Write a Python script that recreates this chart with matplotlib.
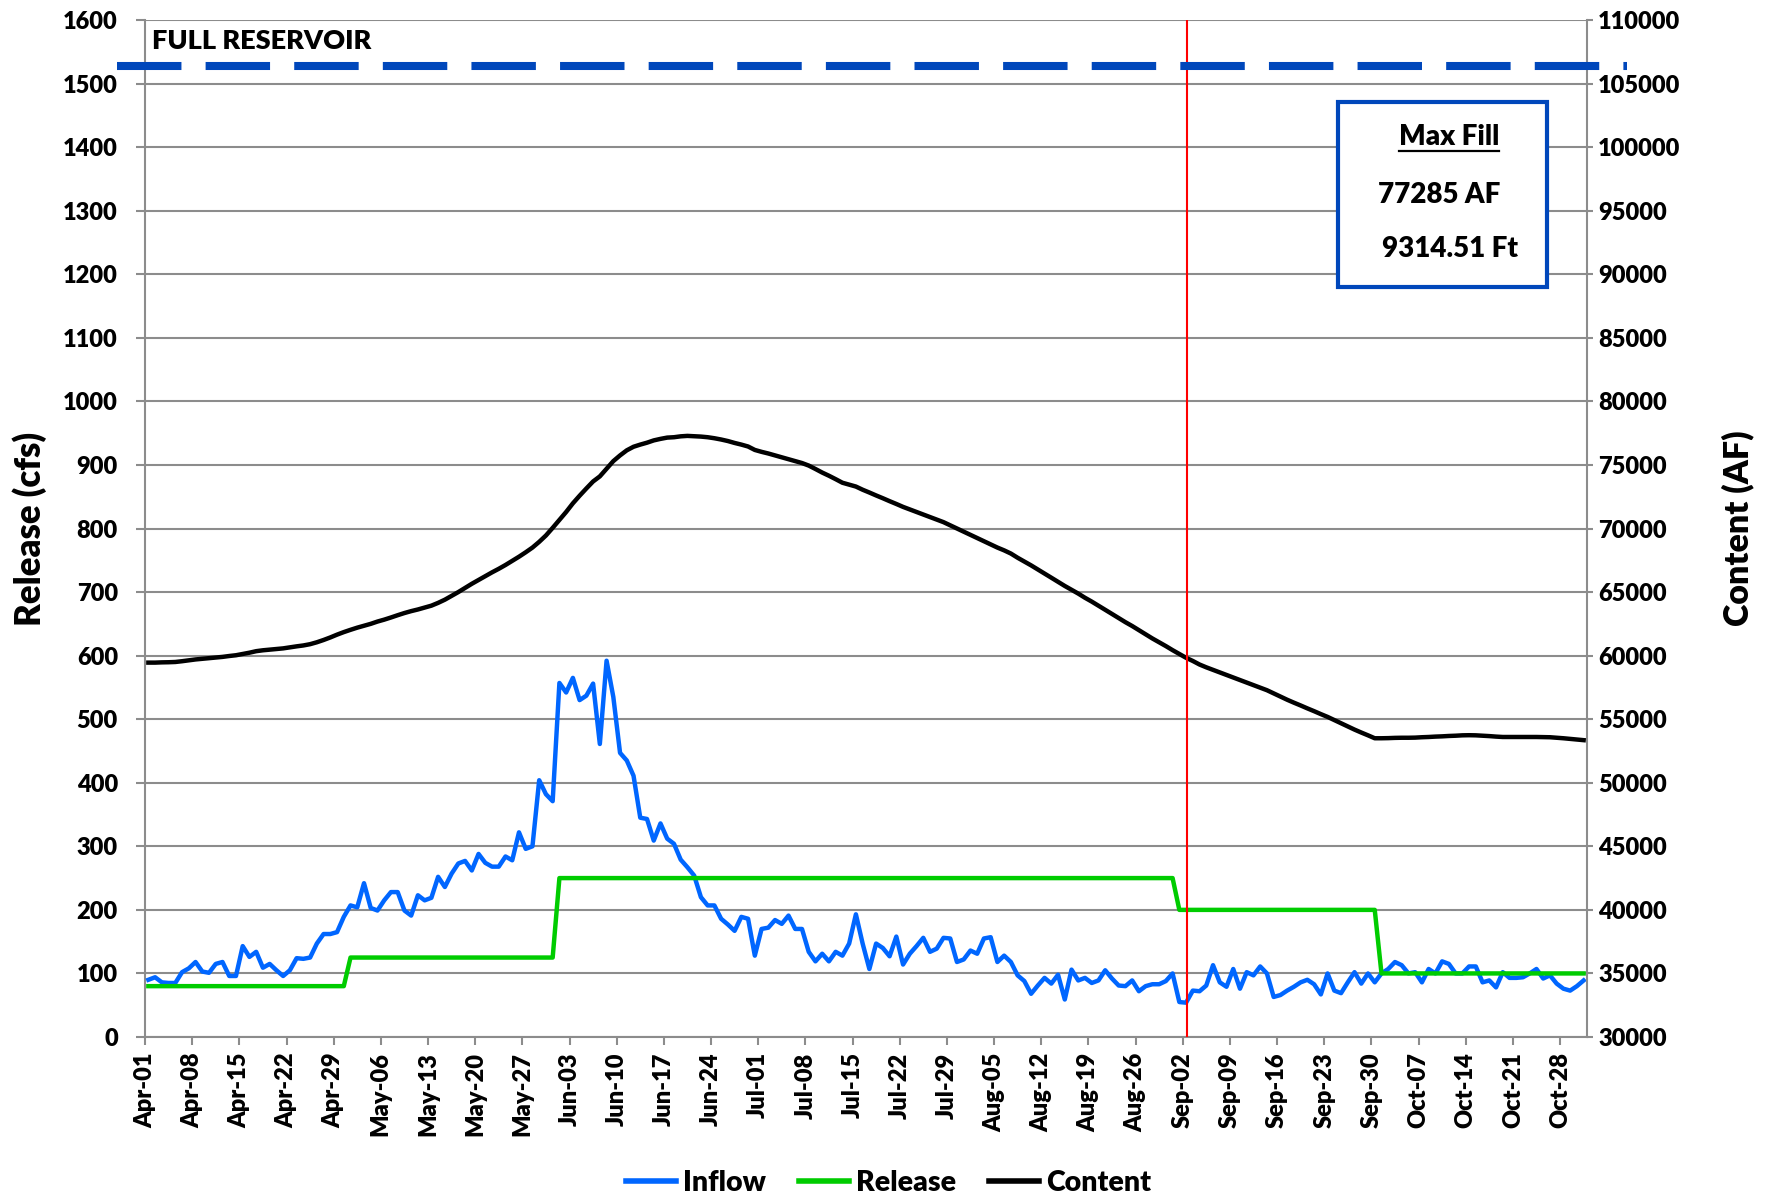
import numpy as np
import pandas as pd
import matplotlib
matplotlib.use("Agg")
import matplotlib.pyplot as plt
import matplotlib.transforms as mtransforms
from matplotlib.lines import Line2D
from matplotlib.patches import Rectangle

# ---------------- data (daily, Apr-01 .. Oct-31) ----------------
start_date = "2000-04-01 12:00"

inflow = [
    90, 94, 86, 85, 85, 102, 108, 118, 103, 101,
    115, 118, 96, 96, 143, 126, 134, 109, 115, 105,
    96, 105, 124, 123, 125, 147, 162, 162, 165, 189,
    207, 204, 242, 203, 199, 215, 228, 228, 199, 191,
    223, 215, 219, 252, 236, 257, 273, 277, 262, 288,
    274, 268, 268, 284, 278, 322, 296, 300, 404, 382,
    371, 557, 542, 565, 530, 537, 556, 461, 592, 535,
    447, 435, 411, 345, 343, 309, 336, 312, 304, 279,
    267, 254, 220, 207, 207, 186, 177, 167, 189, 186,
    128, 170, 172, 184, 178, 191, 170, 170, 134, 119,
    131, 119, 134, 128, 147, 193, 147, 107, 147, 140,
    127, 158, 114, 131, 143, 156, 134, 139, 156, 155,
    118, 122, 136, 131, 155, 157, 118, 128, 118, 97,
    88, 68, 81, 93, 84, 98, 59, 106, 89, 93,
    85, 89, 105, 92, 81, 80, 89, 72, 80, 83,
    83, 88, 100, 55, 54, 73, 72, 81, 113, 86,
    79, 107, 76, 102, 97, 111, 100, 63, 66, 73,
    79, 86, 90, 83, 67, 100, 73, 69, 86, 102,
    84, 100, 86, 100, 107, 118, 113, 100, 102, 86,
    107, 100, 119, 115, 100, 100, 111, 111, 86, 89,
    78, 102, 93, 93, 94, 100, 107, 92, 97, 84,
    76, 73, 80, 89,
]

release = [
    80, 80, 80, 80, 80, 80, 80, 80, 80, 80,
    80, 80, 80, 80, 80, 80, 80, 80, 80, 80,
    80, 80, 80, 80, 80, 80, 80, 80, 80, 80,
    125, 125, 125, 125, 125, 125, 125, 125, 125, 125,
    125, 125, 125, 125, 125, 125, 125, 125, 125, 125,
    125, 125, 125, 125, 125, 125, 125, 125, 125, 125,
    125, 250, 250, 250, 250, 250, 250, 250, 250, 250,
    250, 250, 250, 250, 250, 250, 250, 250, 250, 250,
    250, 250, 250, 250, 250, 250, 250, 250, 250, 250,
    250, 250, 250, 250, 250, 250, 250, 250, 250, 250,
    250, 250, 250, 250, 250, 250, 250, 250, 250, 250,
    250, 250, 250, 250, 250, 250, 250, 250, 250, 250,
    250, 250, 250, 250, 250, 250, 250, 250, 250, 250,
    250, 250, 250, 250, 250, 250, 250, 250, 250, 250,
    250, 250, 250, 250, 250, 250, 250, 250, 250, 250,
    250, 250, 250, 200, 200, 200, 200, 200, 200, 200,
    200, 200, 200, 200, 200, 200, 200, 200, 200, 200,
    200, 200, 200, 200, 200, 200, 200, 200, 200, 200,
    200, 200, 200, 100, 100, 100, 100, 100, 100, 100,
    100, 100, 100, 100, 100, 100, 100, 100, 100, 100,
    100, 100, 100, 100, 100, 100, 100, 100, 100, 100,
    100, 100, 100, 100,
]

content = [
    59450, 59450, 59470, 59480, 59500, 59560, 59630, 59700, 59750, 59800,
    59850, 59900, 59970, 60030, 60130, 60230, 60350, 60420, 60470, 60520,
    60570, 60650, 60730, 60800, 60900, 61050, 61230, 61430, 61650, 61850,
    62030, 62200, 62350, 62500, 62680, 62830, 63000, 63180, 63350, 63500,
    63630, 63780, 63930, 64150, 64400, 64700, 65000, 65330, 65650, 65950,
    66250, 66550, 66830, 67130, 67450, 67780, 68130, 68500, 68950, 69450,
    70050, 70680, 71300, 71980, 72580, 73150, 73700, 74100, 74700, 75300,
    75750, 76150, 76430, 76600, 76750, 76930, 77050, 77150, 77180, 77250,
    77285, 77260, 77230, 77180, 77100, 77000, 76880, 76730, 76600, 76450,
    76180, 76030, 75900, 75750, 75600, 75450, 75300, 75150, 74950, 74680,
    74400, 74150, 73880, 73600, 73450, 73300, 73050, 72830, 72600, 72380,
    72150, 71930, 71700, 71500, 71300, 71100, 70900, 70700, 70500, 70250,
    70000, 69750, 69500, 69250, 69000, 68750, 68500, 68280, 68030, 67700,
    67400, 67100, 66780, 66450, 66130, 65800, 65480, 65180, 64880, 64550,
    64250, 63930, 63600, 63280, 62950, 62630, 62330, 62000, 61680, 61350,
    61050, 60750, 60430, 60130, 59830, 59580, 59300, 59080, 58880, 58680,
    58480, 58280, 58080, 57880, 57680, 57480, 57280, 57030, 56780, 56530,
    56300, 56080, 55850, 55630, 55400, 55180, 54930, 54680, 54430, 54180,
    53950, 53730, 53500, 53500, 53510, 53530, 53540, 53540, 53550, 53580,
    53600, 53630, 53650, 53680, 53700, 53730, 53740, 53730, 53700, 53670,
    53630, 53600, 53600, 53600, 53600, 53600, 53600, 53590, 53580, 53540,
    53500, 53450, 53400, 53350,
]

tick_labels = [
    "Apr-01", "Apr-08", "Apr-15", "Apr-22", "Apr-29", "May-06", "May-13",
    "May-20", "May-27", "Jun-03", "Jun-10", "Jun-17", "Jun-24", "Jul-01",
    "Jul-08", "Jul-15", "Jul-22", "Jul-29", "Aug-05", "Aug-12", "Aug-19",
    "Aug-26", "Sep-02", "Sep-09", "Sep-16", "Sep-23", "Sep-30", "Oct-07",
    "Oct-14", "Oct-21", "Oct-28",
]

full_reservoir = 106400          # AF
today = "2000-09-02 17:00"
max_fill_af = "77285 AF"
max_fill_ft = "9314.51 Ft"

# ---------------- style ----------------
plt.rcParams["font.family"] = ["Lato", "DejaVu Sans"]
plt.rcParams["font.weight"] = "heavy"
plt.rcParams["axes.labelweight"] = "heavy"

C_INFLOW = "#0066FF"
C_RELEASE = "#00CC00"
C_CONTENT = "#000000"
C_FULL = "#0047BB"
C_GRID = "#8C8C8C"

W, H = 1770, 1199
fig = plt.figure(figsize=(W / 100, H / 100), dpi=100)
ax = fig.add_axes([145 / W, 1 - 1037 / H, (1587 - 145) / W, (1037 - 20) / H])
ax2 = ax.twinx()

dates = pd.date_range(start_date, periods=len(inflow), freq="D")
tick_pos = pd.date_range("2000-04-01", periods=len(tick_labels), freq="7D")

l_in, = ax.plot(dates, inflow, color=C_INFLOW, lw=3.2, solid_joinstyle="round", zorder=3)
l_rel, = ax.plot(dates, release, color=C_RELEASE, lw=3.2, solid_joinstyle="round", zorder=4)
l_con, = ax2.plot(dates, content, color=C_CONTENT, lw=3.2, solid_joinstyle="round", zorder=3)

ax.set_xlim(pd.Timestamp("2000-04-01"), pd.Timestamp("2000-11-01"))
ax.set_ylim(0, 1600)
ax2.set_ylim(30000, 110000)
ax.set_yticks(np.arange(0, 1601, 100))
ax2.set_yticks(np.arange(30000, 110001, 5000))
ax.set_xticks(tick_pos)
ax.set_xticklabels(tick_labels, rotation=90)

ax.yaxis.grid(True, color=C_GRID, lw=1.5)
ax.set_axisbelow(True)

for a in (ax, ax2):
    a.spines["top"].set_visible(False)
ax.spines["right"].set_visible(False)
for s in ("left", "bottom"):
    ax.spines[s].set_color(C_GRID)
    ax.spines[s].set_linewidth(1.5)
ax2.spines["left"].set_visible(False)
ax2.spines["bottom"].set_visible(False)
ax2.spines["right"].set_color(C_GRID)
ax2.spines["right"].set_linewidth(1.5)

ax.tick_params(axis="x", direction="out", length=6, width=1.5, color=C_GRID,
               pad=5, labelsize=17)
ax.tick_params(axis="y", direction="out", length=6.5, width=1.5, color=C_GRID,
               pad=13, labelsize=17)
ax2.tick_params(axis="y", direction="out", length=4, width=1.5, color=C_GRID,
                pad=4, labelsize=17)

ax.set_ylabel("Release (cfs)", fontsize=25)
ax.yaxis.set_label_coords(-0.068, 0.5)
ax2.set_ylabel("Content (AF)", fontsize=24.5)
ax2.yaxis.set_label_coords(1.0936, 0.5)

# today marker
ax2.axvline(pd.Timestamp(today), color="#FF0000", lw=1.5, zorder=6)

# full reservoir dashed line (extends beyond the plot area)
trans = mtransforms.blended_transform_factory(ax2.transAxes, ax2.transData)
ax2.plot([-0.0194, 1.028], [full_reservoir, full_reservoir], transform=trans,
         clip_on=False, color=C_FULL, lw=5.8, dashes=(8, 3),
         dash_capstyle="butt", zorder=7)
fig.text(152 / W, 1 - 49 / H, "FULL RESERVOIR", fontsize=19.5, ha="left",
         va="baseline")

# Max fill box
box = Rectangle((1338 / W, 1 - 287 / H), (1547 - 1338) / W, (287 - 102) / H,
                transform=fig.transFigure, facecolor="white", edgecolor=C_FULL,
                lw=3, zorder=5)
fig.add_artist(box)
t_title = fig.text(1449 / W, 1 - 145 / H, "Max Fill", fontsize=20, ha="center",
                   va="baseline", zorder=6)
fig.text(1378 / W, 1 - 202.7 / H, max_fill_af, fontsize=20, ha="left",
         va="baseline", zorder=6)
fig.text(1382 / W, 1 - 256.7 / H, max_fill_ft, fontsize=20, ha="left",
         va="baseline", zorder=6)

fig.canvas.draw()
bb = t_title.get_window_extent(fig.canvas.get_renderer())
uy = 1 - 151 / H
fig.add_artist(Line2D([bb.x0 / W, bb.x1 / W], [uy, uy], transform=fig.transFigure,
                      color="black", lw=1.6, zorder=6))

# legend
handles = [Line2D([], [], color=C_INFLOW, lw=4),
           Line2D([], [], color=C_RELEASE, lw=4),
           Line2D([], [], color=C_CONTENT, lw=4)]
fig.legend(handles, ["Inflow", "Release", "Content"], loc="center",
           bbox_to_anchor=(0.502, 1 - 1183 / H), ncol=3, frameon=False,
           fontsize=20.5, handlelength=1.77, handletextpad=0.25, columnspacing=1.14)

fig.savefig("out.png", dpi=100, facecolor="white")
